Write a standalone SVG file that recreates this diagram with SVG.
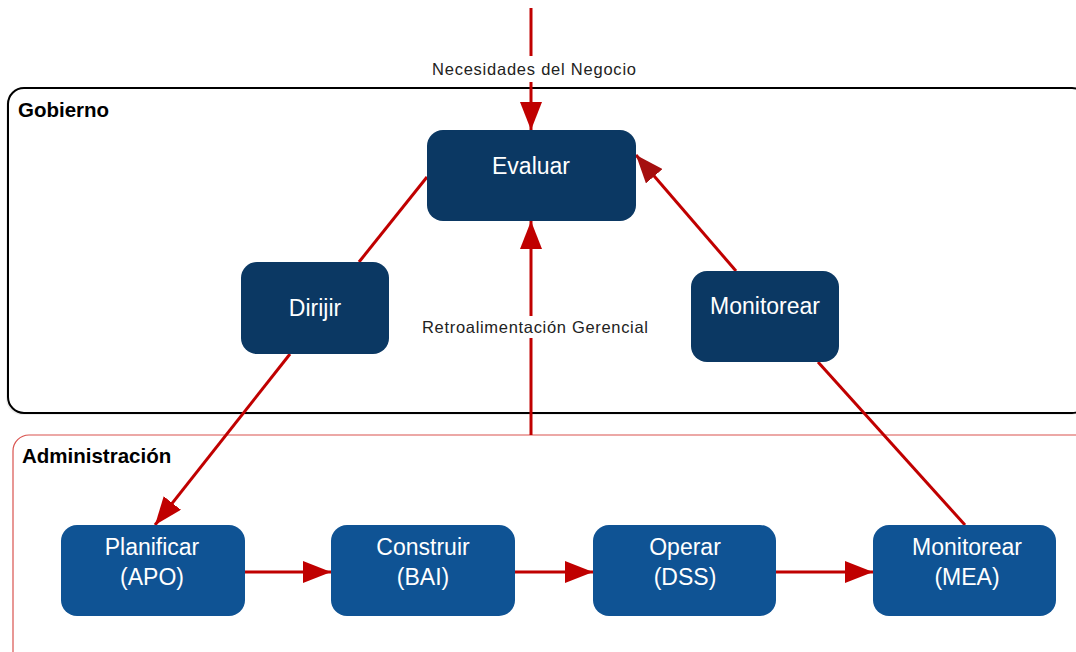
<svg xmlns="http://www.w3.org/2000/svg" width="1076" height="652" viewBox="0 0 1076 652">
<style>
.n1 { fill: #0b3863; }
.n2 { fill: #0f5394; }
.nt { font-family: "Liberation Sans", Arial, sans-serif; font-size: 23px; fill: #ffffff; text-anchor: middle; }
.lbl { font-family: "Liberation Sans", Arial, sans-serif; font-size: 16.5px; fill: #222222; text-anchor: middle; }
.grp { font-family: "Liberation Sans", Arial, sans-serif; font-size: 20.5px; font-weight: bold; fill: #000000; }
.c { stroke: #c00000; stroke-width: 3; fill: none; }
</style>
<defs>
<marker id="ah" viewBox="0 0 28 22" refX="28" refY="11" markerWidth="28" markerHeight="22" markerUnits="userSpaceOnUse" orient="auto">
<path d="M0,0 L28,11 L0,22 Z" fill="#c00000"/>
</marker>
<marker id="ahd" viewBox="0 0 28 22" refX="28" refY="11" markerWidth="28" markerHeight="22" markerUnits="userSpaceOnUse" orient="auto">
<path d="M0,0 L28,11 L0,22 Z" fill="#a50f0f"/>
</marker>
</defs>
<rect width="1076" height="652" fill="#ffffff"/>
<g id="gobierno">
<rect x="6" y="91" width="1080" height="324" rx="16" fill="#eeeeee"/>
<rect x="8" y="88" width="1080" height="325" rx="16" fill="#ffffff" stroke="#000000" stroke-width="2"/>
<text class="grp" x="18" y="117">Gobierno</text>
</g>
<g id="administracion">
<rect x="13" y="435" width="1080" height="240" rx="16" fill="#ffffff" stroke="#d9534f" stroke-width="1.2"/>
<text class="grp" x="22" y="463">Administración</text>
</g>
<g id="connectors">
<line class="c" x1="531" y1="8" x2="531" y2="56"/>
<line class="c" x1="531" y1="82" x2="531" y2="130" marker-end="url(#ah)"/>
<line class="c" x1="427" y1="177" x2="359" y2="262"/>
<line class="c" x1="290" y1="354" x2="155" y2="525" marker-end="url(#ah)"/>
<line class="c" x1="736" y1="271" x2="636" y2="155" marker-end="url(#ahd)"/>
<line class="c" x1="818" y1="362" x2="965" y2="525"/>
<line class="c" x1="531" y1="435" x2="531" y2="338"/>
<line class="c" x1="531" y1="316" x2="531" y2="221" marker-end="url(#ah)"/>
<line class="c" x1="245" y1="572" x2="331" y2="572" marker-end="url(#ah)"/>
<line class="c" x1="515" y1="572" x2="593" y2="572" marker-end="url(#ah)"/>
<line class="c" x1="776" y1="572" x2="873" y2="572" marker-end="url(#ah)"/>
<text class="lbl" x="534" y="75" textLength="204" lengthAdjust="spacing">Necesidades  del Negocio</text>
<text class="lbl" x="535" y="333" textLength="226" lengthAdjust="spacing">Retroalimentación  Gerencial</text>
</g>
<g id="evaluar">
<rect class="n1" x="427" y="130" width="209" height="91" rx="16"/>
<text class="nt" x="531" y="174">Evaluar</text>
</g>
<g id="dirijir">
<rect class="n1" x="241" y="262" width="148" height="92" rx="16"/>
<text class="nt" x="315" y="316">Dirijir</text>
</g>
<g id="monitorear-gob">
<rect class="n1" x="691" y="271" width="148" height="91" rx="16"/>
<text class="nt" x="765" y="314">Monitorear</text>
</g>
<g id="planificar">
<rect class="n2" x="61" y="525" width="184" height="91" rx="16"/>
<text class="nt" x="152" y="555">Planificar</text>
<text class="nt" x="152" y="585">(APO)</text>
</g>
<g id="construir">
<rect class="n2" x="331" y="525" width="184" height="91" rx="16"/>
<text class="nt" x="423" y="555">Construir</text>
<text class="nt" x="423" y="585">(BAI)</text>
</g>
<g id="operar">
<rect class="n2" x="593" y="525" width="183" height="91" rx="16"/>
<text class="nt" x="685" y="555">Operar</text>
<text class="nt" x="685" y="585">(DSS)</text>
</g>
<g id="monitorear-mea">
<rect class="n2" x="873" y="525" width="183" height="91" rx="16"/>
<text class="nt" x="967" y="555">Monitorear</text>
<text class="nt" x="967" y="585">(MEA)</text>
</g>
</svg>
